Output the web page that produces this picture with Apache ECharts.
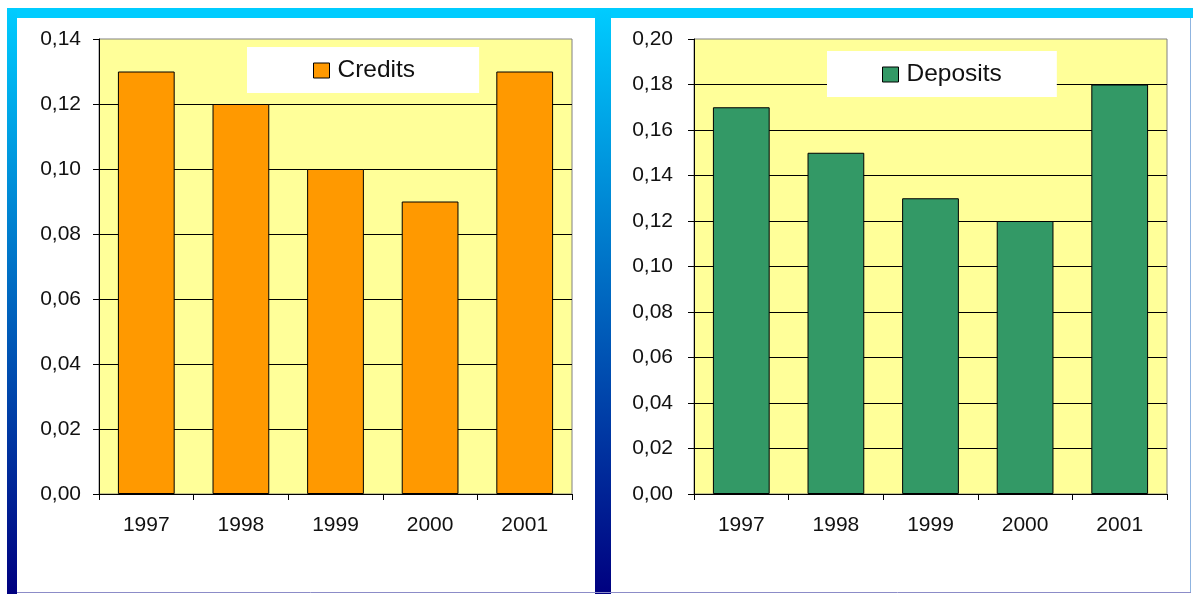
<!DOCTYPE html>
<html>
<head>
<meta charset="utf-8">
<title>Credits and Deposits, 1997–2001</title>
<script src="https://cdn.jsdelivr.net/npm/echarts@6/dist/echarts.min.js"></script>
<style>
  html, body { margin: 0; padding: 0; background: #ffffff; }
  #chart { width: 1195px; height: 594px; }
</style>
</head>
<body>
<div id="chart"></div>
<script>
// Years shown on both category axes
const years = ['1997', '1998', '1999', '2000', '2001'];

// Annual values per series
const credits = [0.13, 0.12, 0.10, 0.09, 0.13];
const deposits = [0.17, 0.15, 0.13, 0.12, 0.18];

// Value-axis ranges
const creditsAxis = { min: 0, max: 0.14, step: 0.02 };
const depositsAxis = { min: 0, max: 0.20, step: 0.02 };

const FONT = '"Liberation Sans", Arial, sans-serif';
const PLOT_BG = '#FFFF99';
const ORANGE = '#FF9900';
const GREEN = '#339966';

const commaFmt = v => v.toFixed(2).replace('.', ',');

function catAxis(gridIndex) {
  return {
    type: 'category',
    gridIndex,
    data: years,
    boundaryGap: true,
    axisLine: { show: true, lineStyle: { color: '#000', width: 1 } },
    axisTick: { show: true, length: 6, alignWithLabel: false, lineStyle: { color: '#000' } },
    axisLabel: { color: '#111', fontFamily: FONT, fontSize: 21, margin: 21 },
    splitLine: { show: false }
  };
}

function valAxis(gridIndex, range, margin) {
  return {
    type: 'value',
    gridIndex,
    min: range.min,
    max: range.max,
    interval: range.step,
    axisLine: { show: true, lineStyle: { color: '#000', width: 1 } },
    axisTick: { show: true, length: 6, lineStyle: { color: '#000' } },
    axisLabel: { color: '#111', fontFamily: FONT, fontSize: 21, margin, formatter: commaFmt },
    splitLine: { show: true, showMaxLine: false, lineStyle: { color: '#000', width: 1 } }
  };
}

function legend(left, top, name, color, padding) {
  return {
    left, top,
    orient: 'horizontal',
    backgroundColor: '#ffffff',
    padding,
    itemWidth: 16,
    itemHeight: 15,
    selectedMode: false,
    data: [{ name, icon: 'rect', itemStyle: { color, borderColor: '#000', borderWidth: 1 } }],
    textStyle: { color: '#111', fontFamily: FONT, fontSize: 24.5, lineHeight: 24, padding: [3, 0, 0, 3] }
  };
}

const frameGradient = () => new echarts.graphic.LinearGradient(0, 0, 0, 1, [
  { offset: 0, color: '#00CCFF' },
  { offset: 1, color: '#000080' }
]);

const chart = echarts.init(document.getElementById('chart'), null, { renderer: 'canvas' });

chart.setOption({
  backgroundColor: '#ffffff',
  animation: false,
  graphic: [
    // frame: cyan top strip, gradient side strips, thin right and bottom edges
    { type: 'rect', z: -10, shape: { x: 7, y: 8, width: 1186, height: 10 }, style: { fill: '#00CCFF' } },
    { type: 'rect', z: -10, shape: { x: 7, y: 8, width: 10, height: 586 }, style: { fill: frameGradient() } },
    { type: 'rect', z: -10, shape: { x: 595, y: 8, width: 16, height: 586 }, style: { fill: frameGradient() } },
    { type: 'line', z: -10, shape: { x1: 1190.5, y1: 18, x2: 1190.5, y2: 592 },
      style: { stroke: '#8FB4E0', lineWidth: 1 } },
    { type: 'line', z: -10, shape: { x1: 17, y1: 592.5, x2: 1191, y2: 592.5 },
      style: { stroke: '#8C8CC8', lineWidth: 1 } }
  ],
  grid: [
    { left: 99, top: 39, width: 473, height: 455, show: true,
      backgroundColor: PLOT_BG, borderColor: '#808080', borderWidth: 1, containLabel: false },
    { left: 694, top: 39, width: 473, height: 455, show: true,
      backgroundColor: PLOT_BG, borderColor: '#808080', borderWidth: 1, containLabel: false }
  ],
  xAxis: [catAxis(0), catAxis(1)],
  yAxis: [valAxis(0, creditsAxis, 18), valAxis(1, depositsAxis, 21)],
  legend: [
    legend(247, 47, 'Credits', ORANGE, [10, 64, 9, 66]),
    legend(827, 51, 'Deposits', GREEN, [10, 55, 9, 55])
  ],
  series: [
    {
      name: 'Credits', type: 'bar', xAxisIndex: 0, yAxisIndex: 0,
      data: credits, barCategoryGap: '40%',
      itemStyle: { color: ORANGE, borderColor: '#000', borderWidth: 1 }
    },
    {
      name: 'Deposits', type: 'bar', xAxisIndex: 1, yAxisIndex: 1,
      data: deposits, barCategoryGap: '40%',
      itemStyle: { color: GREEN, borderColor: '#000', borderWidth: 1 }
    }
  ]
});
</script>
</body>
</html>
